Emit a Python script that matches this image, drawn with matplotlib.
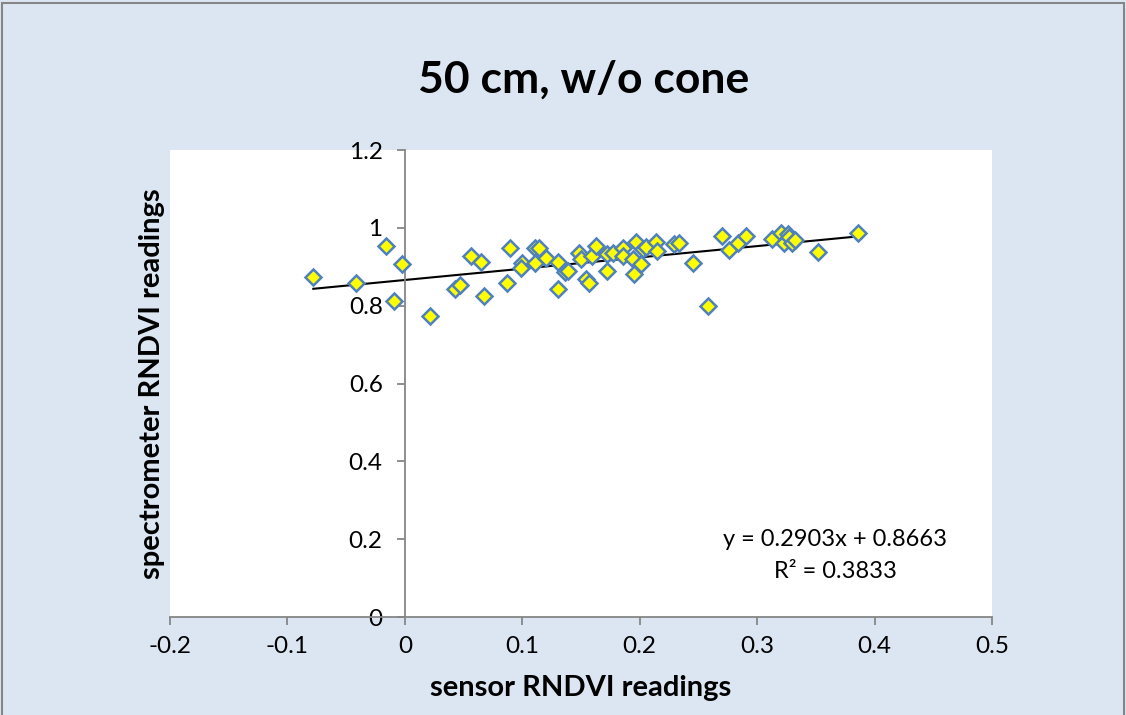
import numpy as np
import matplotlib
matplotlib.use('Agg')
from matplotlib import pyplot as plt
from matplotlib.patches import Rectangle

# sensor RNDVI (x) and spectrometer RNDVI (y)
sensor = [-0.078, -0.0415, -0.0165, -0.0022, -0.009, 0.021, 0.0424, 0.047,
          0.0566, 0.065, 0.067, 0.087, 0.0893, 0.0998, 0.099, 0.1106,
          0.114, 0.1106, 0.12, 0.13, 0.136, 0.139, 0.13, 0.148,
          0.150, 0.154, 0.157, 0.159, 0.163, 0.172, 0.172, 0.177,
          0.186, 0.186, 0.194, 0.195, 0.197, 0.2007, 0.203, 0.205,
          0.2137, 0.2143, 0.229, 0.2336, 0.2455, 0.258, 0.2697, 0.276,
          0.284, 0.2905, 0.3123, 0.32, 0.3265, 0.323, 0.327, 0.330,
          0.332, 0.352, 0.3857]
spectro = [0.873, 0.859, 0.954, 0.908, 0.812, 0.775, 0.843, 0.853,
           0.928, 0.913, 0.825, 0.858, 0.949, 0.909, 0.898, 0.948,
           0.948, 0.909, 0.924, 0.913, 0.888, 0.890, 0.842, 0.935,
           0.920, 0.868, 0.859, 0.928, 0.954, 0.932, 0.889, 0.935,
           0.948, 0.928, 0.920, 0.881, 0.965, 0.907, 0.945, 0.952,
           0.965, 0.942, 0.958, 0.961, 0.909, 0.799, 0.979, 0.943,
           0.961, 0.979, 0.971, 0.988, 0.985, 0.961, 0.978, 0.961,
           0.969, 0.937, 0.986]

# linear trend as printed on the chart
slope = 0.2903
intercept = 0.8663
r2 = 0.3833

xticks = [-0.2, -0.1, 0, 0.1, 0.2, 0.3, 0.4, 0.5]
yticks = [0, 0.2, 0.4, 0.6, 0.8, 1, 1.2]

bg = '#DCE6F2'
grey = '#868686'
plt.rcParams['font.family'] = ['Lato', 'DejaVu Sans']

fig = plt.figure(figsize=(11.26, 7.15), dpi=100, facecolor=bg)
fig.patches.append(Rectangle((0.002, -0.01), 0.996, 1.006, transform=fig.transFigure,
                             fill=False, edgecolor=grey, linewidth=1.5))
ax = fig.add_axes([0.151, 0.137, 0.730, 0.653])
ax.set_facecolor('white')

x = np.array(sensor)
trend_x = np.array([x.min(), x.max()])
ax.plot(trend_x, slope * trend_x + intercept, color='black', linewidth=1.5, zorder=2)
ax.plot(sensor, spectro, linestyle='none', marker='D', markersize=8.5,
        markerfacecolor='#FFFF00', markeredgecolor='#4F81BD', markeredgewidth=1.8, zorder=3)

ax.set_xlim(-0.2, 0.5)
ax.set_ylim(0, 1.2)
ax.set_xticks(xticks)
ax.set_xticklabels(['-0.2', '-0.1', '0', '0.1', '0.2', '0.3', '0.4', '0.5'])
ax.set_yticks(yticks)
ax.set_yticklabels(['0', '0.2', '0.4', '0.6', '0.8', '1', '1.2'])

for s in ['top', 'right']:
    ax.spines[s].set_visible(False)
ax.spines['left'].set_position(('data', 0))
ax.spines['left'].set_color(grey)
ax.spines['bottom'].set_color(grey)
ax.spines['left'].set_linewidth(1.3)
ax.spines['bottom'].set_linewidth(1.3)
ax.tick_params(axis='both', colors=grey, labelcolor='black', labelsize=17.5, width=1.3, length=6)
ax.tick_params(axis='x', pad=8)
ax.tick_params(axis='y', pad=10)

fig.text(0.518, 0.888, '50 cm, w/o cone', ha='center', va='center', fontsize=32, fontweight='bold')
fig.text(0.516, 0.038, 'sensor RNDVI readings', ha='center', va='center', fontsize=21, fontweight='bold')
fig.text(0.135, 0.463, 'spectrometer RNDVI readings', ha='center', va='center', rotation=90,
         fontsize=21, fontweight='bold')
fig.text(0.742, 0.245, 'y = %.4fx + %.4f' % (slope, intercept), ha='center', va='center',
         fontsize=17)
fig.text(0.742, 0.2, 'R² = %.4f' % r2, ha='center', va='center', fontsize=17)

fig.savefig('out.png', dpi=100, facecolor=bg)
